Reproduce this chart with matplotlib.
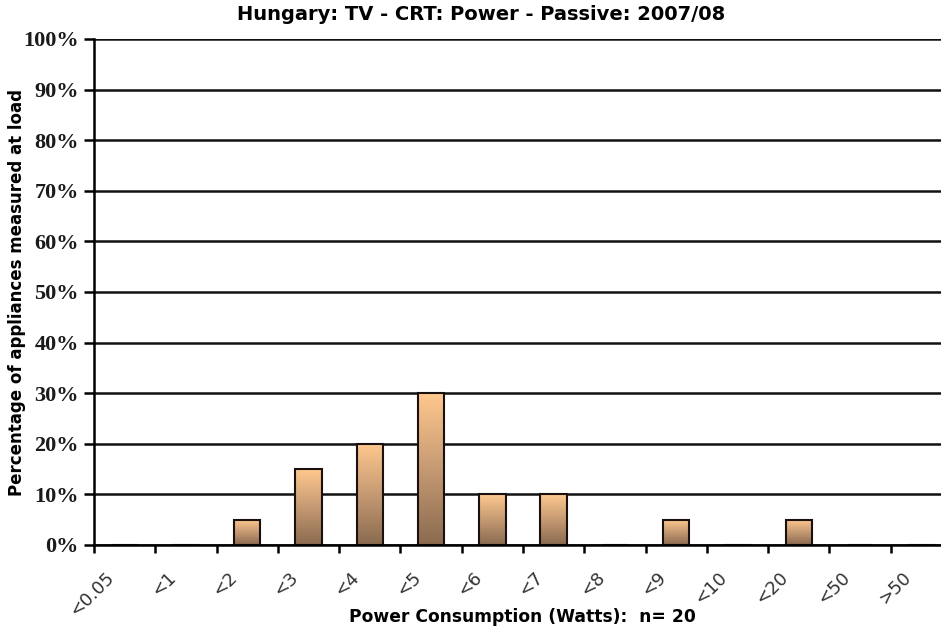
import numpy as np
import matplotlib
matplotlib.use("Agg")
import matplotlib.pyplot as plt
import matplotlib.transforms as mtransforms
from matplotlib.colors import LinearSegmentedColormap
from matplotlib.patches import Rectangle

categories = ["<0.05", "<1", "<2", "<3", "<4", "<5", "<6", "<7",
              "<8", "<9", "<10", "<20", "<50", ">50"]
shares = [0, 0, 5, 15, 20, 30, 10, 10, 0, 5, 0, 5, 0, 0]
title = "Hungary: TV - CRT: Power - Passive: 2007/08"
xlabel = "Power Consumption (Watts):  n= 20"
ylabel = "Percentage of appliances measured at load"

fig = plt.figure(figsize=(9.41, 6.28), dpi=100)
# plot area runs past the right edge, as in the cropped original
ax = fig.add_axes([94 / 941, 1 - 545 / 628, (952 - 94) / 941, (545 - 39) / 628])

x = np.arange(len(categories))
bar_w = 0.43
bars = ax.bar(x, shares, width=bar_w, color="none", edgecolor="#1a1010",
              linewidth=1.5, zorder=3)

# vertical gradient per bar, light peach on top to brown at the bottom
cmap = LinearSegmentedColormap.from_list("peach", ["#8a6a4f", "#c59a73", "#ffc88e"])
grad = np.linspace(0, 1, 256).reshape(-1, 1)
for b in bars:
    h = b.get_height()
    if h <= 0:
        continue
    x0 = b.get_x()
    im = ax.imshow(grad, cmap=cmap, origin="lower", aspect="auto",
                   extent=[x0, x0 + b.get_width(), 0, h], zorder=2)
    clip = Rectangle((x0, 0), b.get_width(), h, transform=ax.transData)
    im.set_clip_path(clip)

ax.set_xlim(-0.5, len(categories) - 0.5)
ax.set_ylim(0, 100)

ax.set_yticks(np.arange(0, 101, 10))
ax.set_yticklabels([f"{v}%" for v in range(0, 101, 10)],
                   fontfamily="Liberation Serif", fontweight="bold",
                   fontsize=16, color="#1a1a1a")
ax.yaxis.grid(True, color="#111111", linewidth=1.8, zorder=1)
ax.set_axisbelow(True)
ax.tick_params(axis="y", direction="out", length=7, width=1.8, pad=4)

ax.set_xticks(x)
ax.set_xticklabels(categories, rotation=45, ha="right", va="top",
                   rotation_mode="anchor", fontsize=13, color="#333333")
ax.tick_params(axis="x", which="major", length=0, pad=17)
shift = mtransforms.ScaledTranslation(-14 / 72, 0, fig.dpi_scale_trans)
for lbl in ax.get_xticklabels():
    lbl.set_transform(lbl.get_transform() + shift)
ax.set_xticks(np.arange(-0.5, len(categories), 1.0), minor=True)
ax.tick_params(axis="x", which="minor", direction="out", length=6, width=1.8)

for side in ["top", "right"]:
    ax.spines[side].set_visible(False)
ax.spines["left"].set_linewidth(1.8)
ax.spines["bottom"].set_linewidth(1.8)
ax.spines["left"].set_zorder(4)
ax.spines["bottom"].set_zorder(4)

fig.text(481 / 941, 1 - 14 / 628, title, fontfamily="DejaVu Sans",
         fontweight="bold", fontsize=14, ha="center", va="center")
fig.text(522 / 941, 1 - 617 / 628, xlabel, fontfamily="DejaVu Sans",
         fontweight="bold", fontsize=12.3, ha="center", va="center")
ax.set_ylabel(ylabel, fontfamily="DejaVu Sans", fontweight="bold", fontsize=12)
ax.yaxis.set_label_coords(-0.079, 0.5)

fig.savefig("out.png", dpi=100)
